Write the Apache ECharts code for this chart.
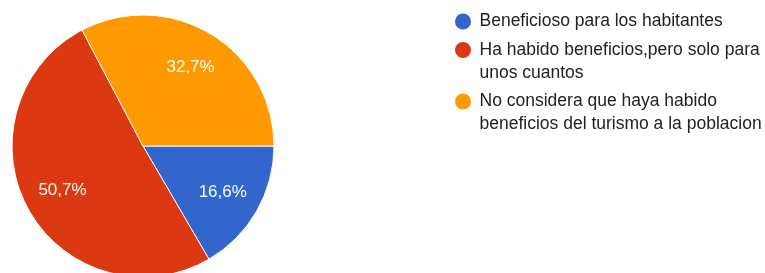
<!DOCTYPE html>
<html>
<head>
<meta charset="utf-8">
<script src="https://cdn.jsdelivr.net/npm/echarts@6/dist/echarts.min.js"></script>
<style>
  html, body { margin: 0; padding: 0; background: #fff; }
  #chart { width: 765px; height: 273px; }
</style>
</head>
<body>
<div id="chart"></div>
<script>
const categories = [
  'Beneficioso para los habitantes',
  'Ha habido beneficios,pero solo para\nunos cuantos',
  'No considera que haya habido\nbeneficios del turismo a la poblacion'
]
const values = [16.6, 50.7, 32.7]
const colors = ['#3366cc', '#dc3912', '#ff9900']

const chart = echarts.init(document.getElementById('chart'))

const pieData = categories.map((name, i) => ({ name, value: values[i] }))
const fmtPct = p => p.value.toFixed(1).replace('.', ',') + '%'

const option = {
  animation: false,
  color: colors,
  legend: {
    orient: 'vertical',
    left: 453,
    top: 10,
    padding: 0,
    itemGap: -17.5,
    icon: 'circle',
    itemWidth: 23,
    itemHeight: 18,
    selectedMode: false,
    formatter: name => (name.indexOf('\n') >= 0 ? '\n' + name : name),
    textStyle: {
      fontFamily: 'Liberation Sans, Arial, sans-serif',
      fontSize: 17.5,
      lineHeight: 23,
      color: '#222'
    },
    data: categories
  },
  series: [
    {
      type: 'pie',
      center: [143, 146],
      radius: 131,
      startAngle: 0,
      clockwise: true,
      silent: true,
      label: { show: false },
      labelLine: { show: false },
      itemStyle: { borderColor: '#fff', borderWidth: 1 },
      data: pieData
    },
    {
      // transparent ring only used to place the percent labels a bit outside the middle
      type: 'pie',
      center: [143, 146],
      radius: [47, 131],
      startAngle: 0,
      clockwise: true,
      silent: true,
      itemStyle: { color: 'transparent', borderWidth: 0 },
      label: {
        show: true,
        position: 'inside',
        formatter: fmtPct,
        color: '#fff',
        fontFamily: 'Liberation Sans, Arial, sans-serif',
        fontSize: 17
      },
      labelLine: { show: false },
      data: pieData
    }
  ]
}

chart.setOption(option)
</script>
</body>
</html>
